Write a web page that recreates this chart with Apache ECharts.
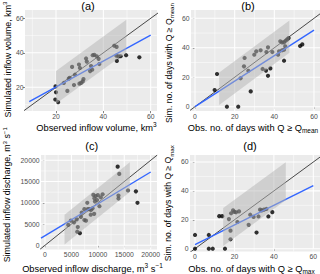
<!DOCTYPE html>
<html><head><meta charset="utf-8">
<script src="https://cdn.jsdelivr.net/npm/echarts@6/dist/echarts.min.js"></script>
<style>html,body{margin:0;padding:0;background:#fff}#c{width:320px;height:274px}</style>
</head><body><div id="c"></div>
<script>
// ---------- data ----------
// (a) inflow volume, km3
const aObs = [19.8,20.0,19.7,20.9,23.3,24.8,25.4,25.8,26.8,27.6,28.0,29.7,30.1,29.9,30.6,31.3,31.6,32.7,33.0,34.4,34.8,35.5,35.3,36.2,37.2,38.3,38.0,44.6,45.6,45.5,46.4,47.3,45.7,49.6,55.2];
const aSim = [20.5,17.1,12.9,11.4,22.5,17.9,25.0,25.5,31.8,21.3,27.3,33.2,31.2,22.1,22.6,23.4,24.7,36.7,34.9,29.4,32.3,38.6,30.2,38.8,38.0,33.5,36.5,44.1,43.4,38.3,37.9,38.0,35.3,38.6,37.4];
const aFitX = [8.7, 60];
const aFitY = [11.7, 50.3];
const aBandX = [20, 49.7];
const aBandLow = [10.5, 40.2];
const aBandHigh = [29.5, 59.2];
const aTicks = [20, 40, 60];
const aMinor = [10, 30, 50];

// (b) days with Q >= Qmean
const bObs = [11.1,9.9,16.1,21.8,28.1,35.8,38.0,36.8,44.9,53.0,54.1,23.0,24.7,25.0,26.9,29.9,30.9,33.1,34.1,36.0,36.8,39.0,41.9,42.4,43.0,43.9,44.9,45.7,46.5,47.2,43.9,44.9,45.5];
const bSim = [22.2,11.3,0,0,10.4,24.5,26.0,21.0,31.2,41.2,42.3,19.3,27.4,33.1,24.4,35.3,37.6,38.3,25.6,37.1,40.3,37.1,35.3,37.6,44.4,43.7,43.7,44.8,45.7,46.6,38.3,38.7,41.0];
const bFitX = [0, 60];
const bFitY = [0, 52];
const bBandX = [12.2, 47.6];
const bBandLow = [1.2, 36.6];
const bBandHigh = [23.2, 58.6];
const bTicks = [0, 20, 40, 60];
const bMinor = [10, 30, 50];

// (c) inflow discharge, m3 s-1
const cObs = [4400,4900,5500,6000,6100,6200,6600,6800,6950,7450,7750,7450,8000,8100,8400,8700,9000,8650,9150,9600,10000,9350,9450,9850,10550,10900,10300,9300,13750,14050,13900,13900,15700,17200,17500];
const cSim = [4800,5800,5400,6100,3200,4300,2850,6700,7700,5950,5800,8500,10000,8500,8500,8300,8700,7200,11850,11600,11800,11050,10300,10650,11300,12000,9200,7400,18500,16800,11700,11000,12900,12700,10000];
const cFitX = [-757, 20000];
const cFitY = [1690, 17250];
const cBandX = [3700, 16050];
const cBandLow = [200, 12550];
const cBandHigh = [7200, 19550];
const cTicks = [0, 5000, 10000, 15000, 20000];
const cMinor = [2500, 7500, 12500, 17500];

// (d) days with Q >= Qmax
const dObs = [0,0,7,7,9,15.2,12.3,13.8,17.2,18.0,18.0,18.3,19.3,20.0,20.8,21.5,22.3,27.2,28.0,29.7,31.2,32.2,33.0,33.8,35.0,36.2,37.2,39.2];
const dSim = [9.5,0,9.5,0,0,0,22.5,22.5,20.5,12.5,6.5,24.5,26.5,25.5,25.2,18.5,25.8,16.5,23.5,22.0,11.2,22.3,27.0,26.5,27.0,27.5,22.3,25.3];
const dFitX = [0, 60];
const dFitY = [2.8, 43.7];
const dBandX = [14.3, 46];
const dBandLow = [1.8, 33.5];
const dBandHigh = [28.1, 59.8];
const dTicks = [0, 20, 40, 60];
const dMinor = [10, 30, 50];

// ---------- chart ----------
const FONT = '"Liberation Sans", Arial, Helvetica, sans-serif';
const chart = echarts.init(document.getElementById('c'), null, {renderer: 'svg', width: 320, height: 274});

const richX = {
  sup: {fontSize: 6.5, verticalAlign: 'top', lineHeight: 8, color: '#000', fontFamily: FONT},
  sub: {fontSize: 6.5, verticalAlign: 'bottom', lineHeight: 8, color: '#000', fontFamily: FONT}
};
const richY = {
  sup: {fontSize: 6.1, verticalAlign: 'top', lineHeight: 7.5, color: '#000', fontFamily: FONT},
  sub: {fontSize: 6.1, verticalAlign: 'bottom', lineHeight: 7.5, color: '#000', fontFamily: FONT}
};

const panels = [
  {obs: aObs, sim: aSim, fx: aFitX, fy: aFitY, bx: aBandX, bl: aBandLow, bh: aBandHigh, ticks: aTicks, minor: aMinor,
   xr: [6.906, 62.66], yr: [6.26, 64.81], box: {left: 25, top: 10, width: 132, height: 101},
   xName: 'Observed inflow volume, km{sup|3}', yName: 'Simulated inflow volume, km{sup|3}',
   xGap: 10, yGap: 11.5, xPad: [0, 0, 0, 11], yPad: [0, 0, 0, 2], yFont: 8.9, title: '(a)', tx: 88, ty: 0},
  {obs: bObs, sim: bSim, fx: bFitX, fy: bFitY, bx: bBandX, bl: bBandLow, bh: bBandHigh, ticks: bTicks, minor: bMinor,
   xr: [-2.02, 63.03], yr: [-2.92, 65.65], box: {left: 191, top: 10, width: 129, height: 101},
   xName: 'Obs. no. of days with Q ≥ Q{sub|mean}', yName: 'Sim. no. of days with Q ≥ Q{sub|mean}',
   xGap: 10, yGap: 16.5, xPad: [0, 5, 0, 0], yPad: [0, 5, 0, 0], yFont: 8.6, title: '(b)', tx: 248, ty: 0},
  {obs: cObs, sim: cSim, fx: cFitX, fy: cFitY, bx: cBandX, bl: cBandLow, bh: cBandHigh, ticks: cTicks, minor: cMinor,
   xr: [-757, 21192], yr: [-988, 21247], box: {left: 41, top: 155, width: 116, height: 94.5},
   xName: 'Observed inflow discharge, m{sup|3} s{sup|−1}', yName: 'Simulated inflow discharge, m{sup|3} s{sup|−1}',
   xGap: 12.5, yGap: 28, xPad: [0, 13, 0, 0], yPad: [0, 0, 0, 15], yFont: 8.9, title: '(c)', tx: 91.7, ty: 140},
  {obs: dObs, sim: dSim, fx: dFitX, fy: dFitY, bx: dBandX, bl: dBandLow, bh: dBandHigh, ticks: dTicks, minor: dMinor,
   xr: [-2.54, 63.38], yr: [-1.94, 64.84], box: {left: 190, top: 155, width: 130, height: 96.5},
   xName: 'Obs. no. of days with Q ≥ Q{sub|max}', yName: 'Sim. no. of days with Q ≥ Q{sub|max}',
   xGap: 10.5, yGap: 16, xPad: [0, 7, 0, 0], yPad: [0, 0, 0, 0], yFont: 8.6, title: '(d)', tx: 250, ty: 140}
];

const grid = [], xAxis = [], yAxis = [], series = [], title = [];

function axisCommon(p) {
  return {
    type: 'value', gridIndex: 0,
    splitLine: {show: false},
    axisLine: {show: false},
    axisTick: {show: true, customValues: p.ticks, length: 2.2, lineStyle: {color: '#333333', width: 0.6}},
    axisLabel: {customValues: p.ticks, fontSize: 6.8, color: '#4D4D4D', margin: 1.5, fontFamily: FONT,
      formatter: v => String(v)},
    nameLocation: 'middle', nameMoveOverlap: false
  };
}

panels.forEach((p, i) => {
  grid.push(Object.assign({show: true, backgroundColor: '#EBEBEB', borderWidth: 0, containLabel: false, outerBoundsMode: 'none'}, p.box));
  const xa = axisCommon(p);
  Object.assign(xa, {gridIndex: i, min: p.xr[0], max: p.xr[1], name: p.xName, nameGap: p.xGap,
    nameTextStyle: {fontSize: 9.3, lineHeight: 13, color: '#000', fontFamily: FONT, padding: p.xPad, rich: richX}});
  xAxis.push(xa);
  const ya = axisCommon(p);
  Object.assign(ya, {gridIndex: i, min: p.yr[0], max: p.yr[1], name: p.yName, nameGap: p.yGap, nameRotate: 90,
    nameTextStyle: {fontSize: p.yFont, lineHeight: 12, color: '#000', fontFamily: FONT, padding: p.yPad, rich: richY}});
  yAxis.push(ya);

  title.push({text: p.title, left: p.tx, top: p.ty, textAlign: 'center', padding: 0,
    textStyle: {fontSize: 11, fontWeight: 'normal', color: '#000', fontFamily: FONT}});

  // grid lines (major + minor) drawn through the axes' scales
  const gl = [];
  p.minor.forEach(v => { gl.push([v, 0, 0]); gl.push([v, 1, 0]); });
  p.ticks.forEach(v => { gl.push([v, 0, 1]); gl.push([v, 1, 1]); });
  series.push({
    type: 'custom', xAxisIndex: i, yAxisIndex: i, z: 1, silent: true, data: gl,
    encode: {x: -1, y: -1},
    renderItem: function (params, api) {
      const cs = params.coordSys;
      const v = api.value(0), orient = api.value(1), major = api.value(2);
      let shape;
      if (orient === 0) {
        const x = api.coord([v, p.yr[0]])[0];
        if (x < cs.x - 0.1 || x > cs.x + cs.width + 0.1) return;
        shape = {x1: x, y1: cs.y, x2: x, y2: cs.y + cs.height};
      } else {
        const y = api.coord([p.xr[0], v])[1];
        if (y < cs.y - 0.1 || y > cs.y + cs.height + 0.1) return;
        shape = {x1: cs.x, y1: y, x2: cs.x + cs.width, y2: y};
      }
      return {type: 'line', shape: shape, style: {stroke: '#FFFFFF', lineWidth: major ? 1.05 : 0.5}};
    }
  });

  // points
  series.push({
    type: 'scatter', xAxisIndex: i, yAxisIndex: i, z: 2, symbolSize: 4.2,
    itemStyle: {color: '#000000'},
    data: p.obs.map((o, k) => [o, p.sim[k]])
  });

  // 1:1 line
  const lo = Math.min(p.xr[0], p.yr[0]), hi = Math.max(p.xr[1], p.yr[1]);
  series.push({
    type: 'line', xAxisIndex: i, yAxisIndex: i, z: 3, symbol: 'none', clip: true,
    lineStyle: {color: '#000000', width: 0.7}, data: [[lo, lo], [hi, hi]]
  });

  // regression line
  series.push({
    type: 'line', xAxisIndex: i, yAxisIndex: i, z: 3, symbol: 'none', clip: true,
    lineStyle: {color: '#3366FF', width: 1.4}, data: p.fx.map((x, k) => [x, p.fy[k]])
  });

  // shaded band (drawn on top, semi-transparent)
  series.push({
    type: 'custom', xAxisIndex: i, yAxisIndex: i, z: 4, silent: true,
    data: [[p.bx[0], p.bl[0], p.bh[0], p.bx[1], p.bl[1], p.bh[1]]],
    encode: {x: [0, 3], y: [1, 2, 4, 5]},
    renderItem: function (params, api) {
      const x0 = api.value(0), l0 = api.value(1), h0 = api.value(2);
      const x1 = api.value(3), l1 = api.value(4), h1 = api.value(5);
      const pts = [api.coord([x0, l0]), api.coord([x1, l1]), api.coord([x1, h1]), api.coord([x0, h0])];
      return {type: 'polygon', shape: {points: pts}, style: {fill: 'rgba(179,179,179,0.5)'}};
    }
  });
});

chart.setOption({
  animation: false,
  backgroundColor: '#FFFFFF',
  textStyle: {fontFamily: FONT},
  title: title, grid: grid, xAxis: xAxis, yAxis: yAxis, series: series
});
</script>
</body></html>
